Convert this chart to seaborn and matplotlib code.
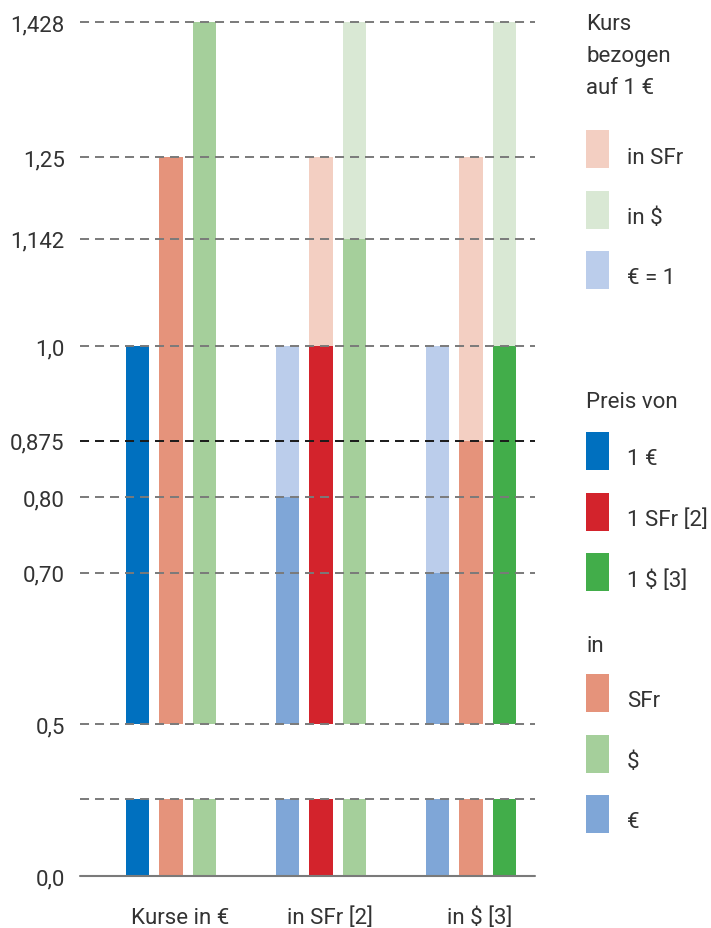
import matplotlib

matplotlib.use("Agg")

import matplotlib.pyplot as plt
import matplotlib.transforms as mtransforms
import pandas as pd
import seaborn as sns
from matplotlib.patches import Rectangle

# ---- data ------------------------------------------------------------------
groups = ["Kurse in €", "in SFr [2]", "in $ [3]"]
currencies = ["€", "SFr", "$"]

# exchange rate relative to 1 € (full bar height, light part)
kurs = [
    [1.0, 1.25, 1.428],
    [1.0, 1.25, 1.428],
    [1.0, 1.25, 1.428],
]
# price of the base currency (dark part of the bar)
preis = [
    [1.0, 1.25, 1.428],
    [0.80, 1.0, 1.142],
    [0.70, 0.875, 1.0],
]

y_ticks = [0.5, 0.70, 0.80, 0.875, 1.0, 1.142, 1.25, 1.428]
y_tick_labels = ["0,5", "0,70", "0,80", "0,875", "1,0", "1,142", "1,25", "1,428"]

# ---- colours ---------------------------------------------------------------
DARK_BLUE = "#0070bf"
SALMON = "#e5937b"
LIGHT_GREEN = "#a5cf9b"
LIGHT_BLUE = "#7fa6d7"
RED = "#d3232c"
GREEN = "#42ad4a"
PALE_BLUE = "#bbcdeb"
PALE_SALMON = "#f3cfc2"
PALE_GREEN = "#d9e8d4"
TEXT = "#333333"
GRID = "#7a7a7a"

kurs_palette = {"€": PALE_BLUE, "SFr": PALE_SALMON, "$": PALE_GREEN}
preis_colors = [
    [DARK_BLUE, SALMON, LIGHT_GREEN],
    [LIGHT_BLUE, RED, LIGHT_GREEN],
    [LIGHT_BLUE, SALMON, GREEN],
]

legend_blocks = [
    ("Kurs\nbezogen\nauf 1 €", [(PALE_SALMON, "in SFr"), (PALE_GREEN, "in $"), (PALE_BLUE, "€ = 1")]),
    ("Preis von", [(DARK_BLUE, "1 €"), (RED, "1 SFr [2]"), (GREEN, "1 $ [3]")]),
    ("in", [(SALMON, "SFr"), (LIGHT_GREEN, "$"), (LIGHT_BLUE, "€")]),
]


def long_frame(values):
    rows = []
    for gi, group in enumerate(groups):
        for ci, cur in enumerate(currencies):
            rows.append({"group": group, "currency": cur, "value": values[gi][ci]})
    return pd.DataFrame(rows)


kurs_df = long_frame(kurs)
preis_df = long_frame(preis)

# ---- figure ----------------------------------------------------------------
sns.set_theme(style="white")
plt.rcParams["font.family"] = ["Roboto", "DejaVu Sans"]
plt.rcParams["lines.scale_dashes"] = False

W, H = 711, 929
fig = plt.figure(figsize=(W / 100, H / 100), dpi=100)

PX = 756.0  # pixels per unit on the value axis
left, right = 80, 535
ax_top = fig.add_axes([left / W, 1 - 725 / H, (right - left) / W, (725 - 22) / H])
ax_bot = fig.add_axes([left / W, 1 - 877 / H, (right - left) / W, 77 / H])

WIDTH, GAP = 0.67, 0.31
SPACING = WIDTH / len(currencies)


def draw_bars(ax, df, recolor=None):
    n_before = len(ax.containers)
    sns.barplot(
        data=df, x="group", y="value", hue="currency",
        order=groups, hue_order=currencies, palette=kurs_palette,
        width=WIDTH, gap=GAP, errorbar=None, legend=False,
        linewidth=0, saturation=1, ax=ax,
    )
    if recolor is None:
        return
    for container in ax.containers[n_before:]:
        for bar in container:
            center = bar.get_x() + bar.get_width() / 2
            gi = int(round(center))
            ci = int(round((center - gi) / SPACING + 1))
            bar.set_facecolor(recolor[gi][ci])


draw_bars(ax_top, kurs_df)
for ax in (ax_top, ax_bot):
    draw_bars(ax, preis_df, recolor=preis_colors)
    ax.set_xlim(-0.607, 2.427)
    ax.set_xlabel("")
    ax.set_ylabel("")
    for side in ax.spines.values():
        side.set_visible(False)
    ax.tick_params(axis="both", length=0, labelsize=16, labelcolor=TEXT, pad=11)

ax_top.set_ylim(0.5, 0.5 + 703 / PX)
ax_top.set_yticks(y_ticks, y_tick_labels)
ax_top.set_xticks([])
for y in y_ticks:
    color = "#1a1a1a" if y == 0.875 else GRID
    ax_top.axhline(y, color=color, lw=1.4, dashes=(6.5, 4.3), zorder=5, clip_on=False)

bot_top = 77 / PX
ax_bot.set_ylim(0, bot_top)
ax_bot.set_yticks([0.0], ["0,0"])
ax_bot.axhline(bot_top, color=GRID, lw=1.4, dashes=(6.5, 4.3), zorder=5, clip_on=False)
ax_bot.axhline(0, color=GRID, lw=1.5, zorder=5, clip_on=False)
ax_bot.set_xticks(range(len(groups)), groups)
ax_bot.tick_params(axis="x", pad=22)
shift = mtransforms.ScaledTranslation(9 / 100, 0, fig.dpi_scale_trans)
for label in ax_bot.get_xticklabels():
    label.set_transform(label.get_transform() + shift)

# ---- legend (drawn in figure pixels) ---------------------------------------
def fx(x):
    return x / W


def fy(y):
    return 1 - y / H


title_tops = [14, 392, 636]
first_patch = [131, 433, 675]
STEP = 60.5
for (title, entries), t_top, p_top in zip(legend_blocks, title_tops, first_patch):
    fig.text(fx(586), fy(t_top), title, ha="left", va="top", fontsize=16,
             color=TEXT, linespacing=1.7)
    for k, (color, label) in enumerate(entries):
        top = p_top + k * STEP
        fig.add_artist(Rectangle((fx(586), fy(top + 38)), 23 / W, 38 / H,
                                 transform=fig.transFigure, color=color, lw=0))
        fig.text(fx(627), fy(top + 27), label, ha="left", va="center",
                 fontsize=16, color=TEXT)

fig.savefig("out.png", dpi=100)
plt.close(fig)
